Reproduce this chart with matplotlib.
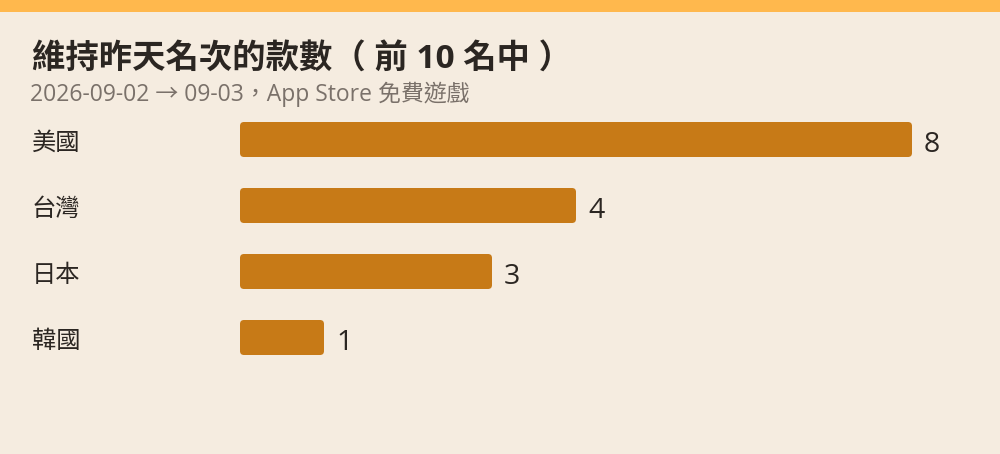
import matplotlib
matplotlib.use("Agg")
import matplotlib.pyplot as plt
from matplotlib.patches import FancyBboxPatch, Rectangle

FAM = ['Open Sans', 'Noto Sans CJK TC', 'DejaVu Sans']
plt.rcParams['font.family'] = FAM

categories = ["美國", "台灣", "日本", "韓國"]
values = [8, 4, 3, 1]
title = "維持昨天名次的款數（ 前 10 名中 ）"
subtitle = "2026-09-02 → 09-03，App Store 免費遊戲"

BG = "#F5ECE0"
BAR = "#C77A17"
TOP = "#FFB84D"
TXT = "#2B2622"
SUB = "#7A716A"

W, H = 1000, 454
fig = plt.figure(figsize=(W / 100, H / 100), dpi=100, facecolor=BG)

# top strip
fig.patches.append(Rectangle((0, 1 - 12 / H), 1, 12 / H, transform=fig.transFigure,
                             facecolor=TOP, edgecolor='none', zorder=0))

fig.text(32 / W, 1 - 69 / H, title, fontsize=24, fontweight='bold', color=TXT,
         va='baseline', ha='left')
fig.text(30 / W, 1 - 101 / H, subtitle, fontsize=16.5, color=SUB, va='baseline', ha='left')

# axes in pixel-mapped data space
x0 = 240
px_x = 84.0   # px per unit
px_y = 66.0   # px per category
c0 = 139.5    # px from top to first bar centre
ax = fig.add_axes([x0 / W, 0, 1 - x0 / W, 1])
ax.set_facecolor('none')
ax.set_xlim(0, (W - x0) / px_x)
ax.set_ylim((H - c0) / px_y, -c0 / px_y)
ax.axis('off')

bh = 35 / px_y
bars = ax.barh(range(len(categories)), values, height=bh, color=BAR)
r = 4 / px_x
for b in bars:
    x, y = b.get_x(), b.get_y()
    w, h = b.get_width(), b.get_height()
    b.set_visible(False)
    p = FancyBboxPatch((x, y), w, h, boxstyle=f"round,pad=0,rounding_size={r}",
                       mutation_aspect=px_x / px_y, facecolor=BAR, edgecolor='none')
    ax.add_patch(p)

for i, (c, v) in enumerate(zip(categories, values)):
    ax.text(v + 12 / px_x, i + 12.5 / px_y, str(v), fontsize=20.5, color=TXT,
            fontweight='medium', va='baseline', ha='left')
    ax.text(-(x0 - 32) / px_x, i + 10 / px_y, c, fontsize=17.5, fontweight='medium',
            color=TXT, va='baseline', ha='left', clip_on=False)

fig.savefig("out.png", dpi=100, facecolor=BG)
